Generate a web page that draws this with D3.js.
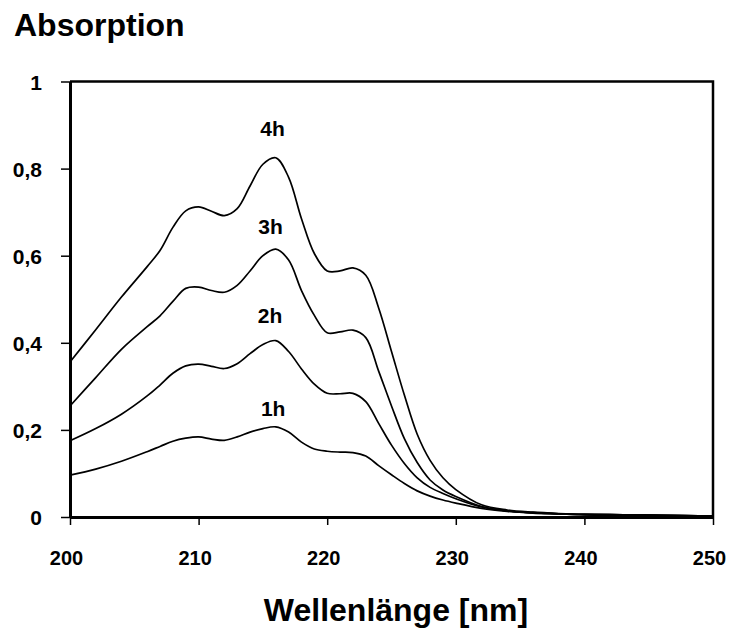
<!DOCTYPE html>
<html>
<head>
<meta charset="utf-8">
<script src="https://cdn.jsdelivr.net/npm/d3@7"></script>
<style>
  body { margin:0; background:#fff; }
  text { font-family: "Liberation Sans", Arial, sans-serif; font-weight: bold; fill:#000; }
</style>
</head>
<body>
<div id="chart"></div>
<script>
// wavelength grid (nm)
const wavelengths = [200,202,204,206,207,208,209,210,211,212,213,214,215,216,217,218,219,220,221,222,223,224,225,226,227,228,229,230,232,234,236,238,240,243,246,250];

// absorption, one array per time
const abs1h = [0.096,0.110,0.128,0.150,0.162,0.174,0.181,0.184,0.179,0.176,0.184,0.195,0.203,0.207,0.195,0.172,0.156,0.151,0.149,0.148,0.140,0.118,0.097,0.077,0.060,0.048,0.039,0.032,0.020,0.013,0.009,0.007,0.005,0.004,0.003,0.002];
const abs2h = [0.175,0.203,0.236,0.278,0.303,0.330,0.347,0.351,0.346,0.341,0.352,0.375,0.396,0.405,0.380,0.340,0.305,0.284,0.283,0.284,0.265,0.215,0.165,0.123,0.090,0.068,0.054,0.042,0.023,0.014,0.010,0.007,0.006,0.005,0.004,0.002];
const abs3h = [0.255,0.320,0.385,0.437,0.462,0.495,0.525,0.528,0.520,0.516,0.532,0.565,0.600,0.615,0.590,0.520,0.463,0.423,0.425,0.429,0.412,0.335,0.255,0.180,0.125,0.085,0.062,0.047,0.024,0.014,0.010,0.007,0.006,0.005,0.004,0.002];
const abs4h = [0.356,0.430,0.505,0.575,0.612,0.665,0.703,0.712,0.702,0.692,0.708,0.760,0.810,0.825,0.780,0.685,0.605,0.565,0.565,0.572,0.555,0.480,0.380,0.280,0.190,0.130,0.090,0.063,0.028,0.016,0.011,0.008,0.006,0.005,0.004,0.002];

const seriesNames = ["1h","2h","3h","4h"];
const seriesValues = [abs1h, abs2h, abs3h, abs4h];
// label anchor (data units)
const labelX = [215.8, 215.55, 215.6, 215.75];
const labelY = [0.250, 0.463, 0.667, 0.893];

const xTicks = [200,210,220,230,240,250];
const yTicks = [0,0.2,0.4,0.6,0.8,1];

const width = 731, height = 629;
const svg = d3.select("#chart").append("svg").attr("width", width).attr("height", height);

const x = d3.scaleLinear().domain([200,250]).range([70,713]);
const y = d3.scaleLinear().domain([0,1]).range([517,81.5]);

const de = d3.formatLocale({decimal:",", thousands:".", grouping:[3], currency:["","€"]});
const fmt = de.format(".1~f");

// box top + right
svg.append("path")
  .attr("d", `M${x(200)},${y(1)}H${x(250)}V${y(0)}`)
  .attr("fill","none").attr("stroke","#000").attr("stroke-width",2.5);

// y axis
const gy = svg.append("g").attr("transform",`translate(${x(200)},0)`)
  .call(d3.axisLeft(y).tickValues(yTicks).tickFormat(fmt).tickSize(9).tickSizeOuter(0));
gy.select(".domain").attr("stroke-width",3);
gy.selectAll(".tick line").attr("stroke-width",1.5);
gy.selectAll(".tick text").attr("x",-28).attr("dy","0.36em").style("font-size","21px").style("font-family","Liberation Sans, Arial, sans-serif").style("font-weight","bold");

// x axis
const gx = svg.append("g").attr("transform",`translate(0,${y(0)})`)
  .call(d3.axisBottom(x).tickValues(xTicks).tickSize(8).tickSizeOuter(0));
gx.select(".domain").attr("stroke-width",3);
gx.selectAll(".tick line").attr("stroke-width",1.5);
gx.selectAll(".tick text").attr("y",48).attr("dy",0).attr("dx",-4).style("font-size","20px").style("font-family","Liberation Sans, Arial, sans-serif").style("font-weight","bold");

// curves
const line = d3.line()
  .x((d,i)=>x(wavelengths[i]))
  .y(d=>y(d))
  .curve(d3.curveCatmullRom.alpha(0.5));

svg.selectAll(".curve").data(seriesValues).enter().append("path")
  .attr("class","curve")
  .attr("d", line)
  .attr("fill","none").attr("stroke","#000").attr("stroke-width",1.7);

svg.selectAll(".lbl").data(seriesNames).enter().append("text")
  .attr("class","lbl")
  .attr("x",(d,i)=>x(labelX[i]))
  .attr("y",(d,i)=>y(labelY[i]))
  .attr("text-anchor","middle").attr("dy","0.36em")
  .style("font-size","21px")
  .text(d=>d);

// titles
svg.append("text").attr("x",14).attr("y",36).style("font-size","32px").text("Absorption");
svg.append("text").attr("x",396).attr("y",621).attr("text-anchor","middle").style("font-size","32px").text("Wellenlänge [nm]");
</script>
</body>
</html>
